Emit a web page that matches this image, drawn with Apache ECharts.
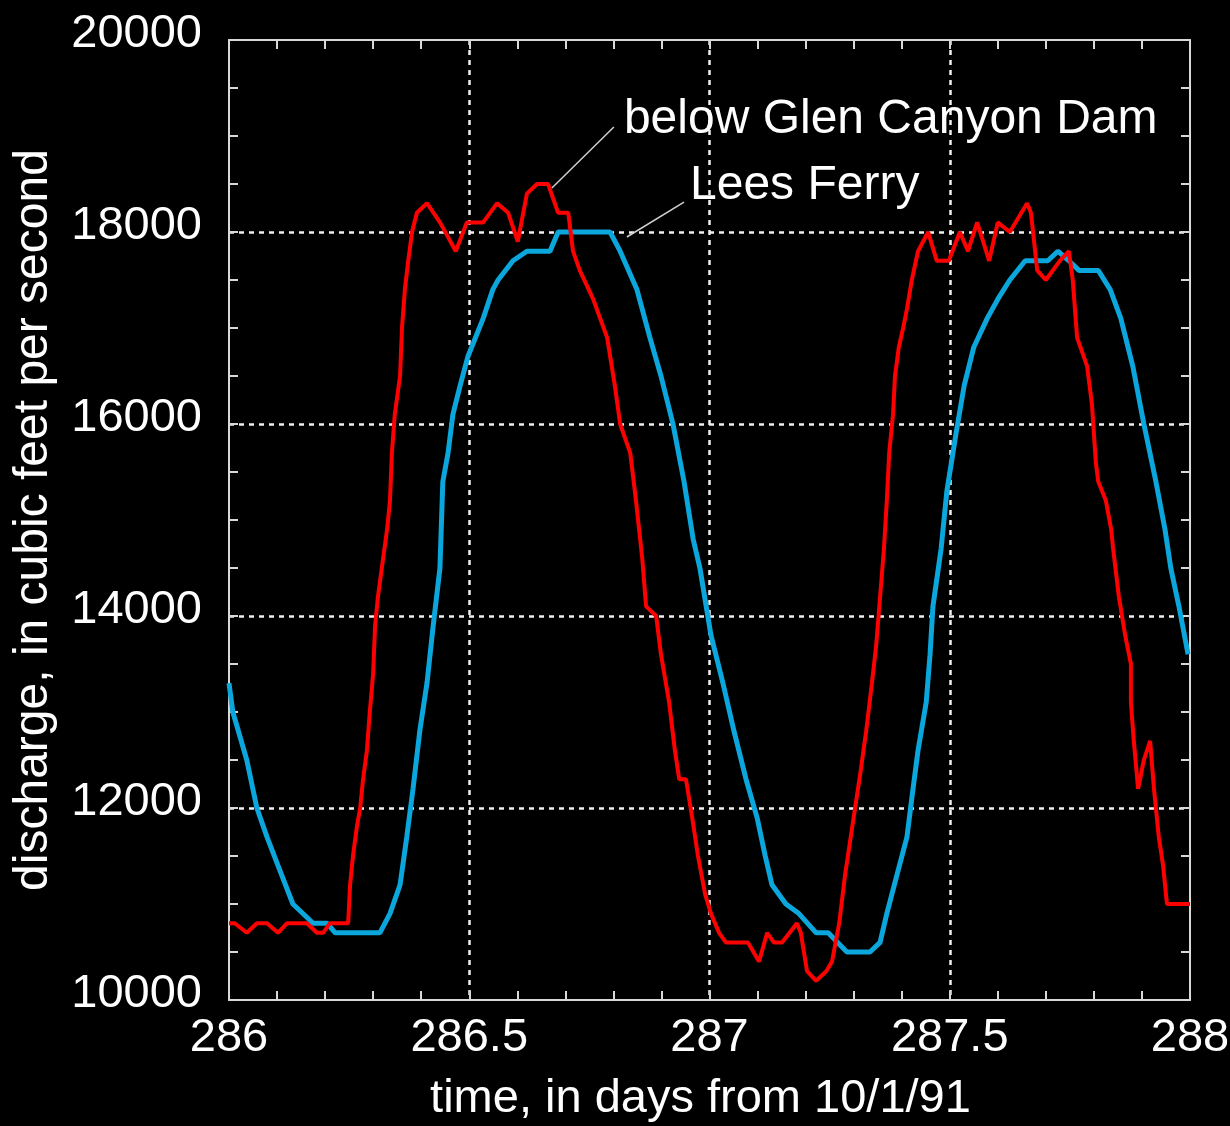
<!DOCTYPE html>
<html>
<head>
<meta charset="utf-8">
<title>Discharge below Glen Canyon Dam and at Lees Ferry</title>
<script src="https://cdn.jsdelivr.net/npm/echarts@6/dist/echarts.min.js"></script>
<style>
  html, body { margin: 0; padding: 0; background: #000; }
  #main { width: 1230px; height: 1126px; }
</style>
</head>
<body>
<div id="main"></div>
<script>
// time in days from 10/1/91
var damDays = [286.000, 286.012, 286.037, 286.058, 286.079, 286.102, 286.121, 286.162, 286.183, 286.196,
  286.210, 286.248, 286.252, 286.258, 286.266, 286.273, 286.279, 286.287, 286.293, 286.300,
  286.304, 286.310, 286.318, 286.329, 286.335, 286.339, 286.345, 286.356, 286.360, 286.366,
  286.373, 286.381, 286.391, 286.412, 286.439, 286.472, 286.495, 286.529, 286.558, 286.581,
  286.601, 286.620, 286.641, 286.664, 286.685, 286.706, 286.716, 286.730, 286.758, 286.787,
  286.803, 286.814, 286.835, 286.847, 286.860, 286.868, 286.889, 286.899, 286.916, 286.928,
  286.937, 286.951, 286.964, 286.976, 286.991, 287.003, 287.020, 287.034, 287.080, 287.103,
  287.120, 287.134, 287.151, 287.182, 287.190, 287.203, 287.222, 287.243, 287.255, 287.270,
  287.282, 287.294, 287.303, 287.315, 287.326, 287.338, 287.347, 287.355, 287.363, 287.369,
  287.374, 287.382, 287.386, 287.394, 287.403, 287.411, 287.421, 287.434, 287.455, 287.473,
  287.498, 287.521, 287.538, 287.557, 287.582, 287.600, 287.625, 287.661, 287.669, 287.682,
  287.700, 287.729, 287.748, 287.756, 287.765, 287.786, 287.796, 287.804, 287.809, 287.825,
  287.836, 287.840, 287.852, 287.865, 287.877, 287.877, 287.883, 287.892, 287.904, 287.917,
  287.925, 287.935, 287.944, 287.952, 288.000];
var damFlow = [10800, 10800, 10700, 10800, 10800, 10700, 10800, 10800, 10700, 10700,
  10800, 10800, 11200, 11500, 11800, 12000, 12300, 12600, 13000, 13400,
  13900, 14200, 14500, 14900, 15200, 15700, 16100, 16500, 17000, 17400,
  17700, 18000, 18200, 18300, 18100, 17800, 18100, 18100, 18300, 18200,
  17900, 18400, 18500, 18500, 18200, 18200, 17800, 17600, 17300, 16900,
  16400, 16000, 15700, 15200, 14600, 14100, 14000, 13600, 13100, 12600,
  12300, 12300, 11900, 11500, 11100, 10900, 10700, 10600, 10600, 10400,
  10700, 10600, 10600, 10800, 10700, 10300, 10200, 10300, 10400, 10800,
  11300, 11700, 12000, 12400, 12800, 13300, 13700, 14200, 14700, 15200,
  15700, 16100, 16500, 16800, 17000, 17200, 17500, 17800, 18000, 17700,
  17700, 18000, 17800, 18100, 17700, 18100, 18000, 18300, 18200, 17600,
  17500, 17700, 17800, 17500, 16900, 16600, 16200, 15600, 15400, 15200,
  14900, 14700, 14200, 13800, 13500, 13100, 12700, 12200, 12500, 12700,
  12200, 11700, 11400, 11000, 11000];

var leesDays = [286.000, 286.008, 286.037, 286.058, 286.079, 286.102, 286.133, 286.175, 286.204, 286.221,
  286.314, 286.335, 286.356, 286.370, 286.383, 286.397, 286.412, 286.425, 286.439, 286.445,
  286.456, 286.466, 286.481, 286.497, 286.529, 286.549, 286.560, 286.591, 286.620, 286.668,
  286.685, 286.793, 286.814, 286.849, 286.876, 286.899, 286.924, 286.947, 286.966, 286.980,
  287.003, 287.028, 287.051, 287.076, 287.099, 287.116, 287.130, 287.159, 287.186, 287.222,
  287.247, 287.286, 287.334, 287.355, 287.369, 287.390, 287.411, 287.421, 287.434, 287.451,
  287.459, 287.465, 287.482, 287.494, 287.513, 287.530, 287.550, 287.578, 287.600, 287.625,
  287.657, 287.704, 287.725, 287.748, 287.769, 287.809, 287.834, 287.856, 287.881, 287.904,
  287.929, 287.948, 287.960, 287.977, 287.996];
var leesFlow = [13300, 13000, 12500, 12000, 11700, 11400, 11000, 10800, 10800, 10700,
  10700, 10900, 11200, 11700, 12200, 12800, 13300, 13900, 14500, 15400,
  15700, 16100, 16400, 16700, 17100, 17400, 17500, 17700, 17800, 17800,
  18000, 18000, 17800, 17400, 16900, 16500, 16000, 15400, 14800, 14500,
  13800, 13300, 12800, 12300, 11900, 11500, 11200, 11000, 10900, 10700,
  10700, 10500, 10500, 10600, 10900, 11300, 11700, 12100, 12600, 13100,
  13600, 14100, 14700, 15300, 15900, 16400, 16800, 17100, 17300, 17500,
  17700, 17700, 17800, 17700, 17600, 17600, 17400, 17100, 16600, 16000,
  15400, 14900, 14500, 14100, 13600];

var dayTicks = [286, 286.5, 287, 287.5, 288];
var flowTicks = [10000, 12000, 14000, 16000, 18000, 20000];

var damLabel = 'below Glen Canyon Dam';
var leesLabel = 'Lees Ferry';
// leader lines: [point near the curve, point near the label]
var damLeader = [[286.672, 18458], [286.801, 19094]];
var leesLeader = [[286.828, 17948], [286.947, 18312]];

function pairs(xs, ys) {
  return xs.map(function (x, i) { return [x, ys[i]]; });
}

var FONT = "'Liberation Sans', Arial, Helvetica, sans-serif";
var AX = '#d8d8d8';
var GRID = { color: '#f0f0f0', width: 2.5, type: [5, 5] };

var chart = echarts.init(document.getElementById('main'));

function xAxisCfg(pos, showLabel) {
  return {
    type: 'value', position: pos,
    min: dayTicks[0], max: dayTicks[dayTicks.length - 1], interval: 0.5,
    axisLine: { show: true, onZero: false, lineStyle: { color: AX, width: 2 } },
    axisTick: { show: true, inside: true, length: 9, lineStyle: { color: AX, width: 2 } },
    minorTick: { show: true, splitNumber: 5, length: 9, lineStyle: { color: AX, width: 2 } },
    axisLabel: { show: showLabel, color: '#fff', fontFamily: FONT, fontSize: 47, margin: 15,
      formatter: function (v) { return String(v); } },
    splitLine: { show: showLabel, showMinLine: false, showMaxLine: false, lineStyle: GRID }
  };
}
function yAxisCfg(pos, showLabel) {
  return {
    type: 'value', position: pos,
    min: flowTicks[0], max: flowTicks[flowTicks.length - 1], interval: 2000,
    axisLine: { show: true, onZero: false, lineStyle: { color: AX, width: 2 } },
    axisTick: { show: true, inside: true, length: 9, lineStyle: { color: AX, width: 2 } },
    minorTick: { show: true, splitNumber: 4, length: 9, lineStyle: { color: AX, width: 2 } },
    axisLabel: { show: showLabel, color: '#fff', fontFamily: FONT, fontSize: 47, margin: 27,
      verticalAlign: 'bottom', lineHeight: 12,
      formatter: function (v) { return String(v); } },
    splitLine: { show: showLabel, showMinLine: false, showMaxLine: false, lineStyle: GRID }
  };
}

var xBottom = xAxisCfg('bottom', true);
xBottom.name = 'time, in days from 10/1/91';
xBottom.nameLocation = 'middle';
xBottom.nameGap = 76;
xBottom.nameTextStyle = { color: '#fff', fontFamily: FONT, fontSize: 47, padding: [0, 18, 0, 0] };

var yLeft = yAxisCfg('left', true);
yLeft.name = 'discharge, in cubic feet per second';
yLeft.nameLocation = 'middle';
yLeft.nameGap = 171;
yLeft.nameTextStyle = { color: '#fff', fontFamily: FONT, fontSize: 48 };

chart.setOption({
  animation: false,
  backgroundColor: '#000',
  grid: { left: 229, top: 40, width: 961, height: 960, containLabel: false, outerBoundsMode: 'none' },
  xAxis: [xBottom, xAxisCfg('top', false)],
  yAxis: [yLeft, yAxisCfg('right', false)],
  series: [
    {
      name: 'Lees Ferry', type: 'line', data: pairs(leesDays, leesFlow),
      showSymbol: false, symbol: 'none', z: 3,
      lineStyle: { color: '#0aa6dc', width: 5 }
    },
    {
      name: 'below Glen Canyon Dam', type: 'line', data: pairs(damDays, damFlow),
      showSymbol: false, symbol: 'none', z: 4,
      lineStyle: { color: '#ff0000', width: 4 }
    }
  ]
});

// annotations placed through the chart's own coordinate conversion
function px(p) { return chart.convertToPixel({ gridIndex: 0 }, p); }
var d0 = px(damLeader[0]), d1 = px(damLeader[1]);
var l0 = px(leesLeader[0]), l1 = px(leesLeader[1]);

chart.setOption({
  graphic: [
    { type: 'line', shape: { x1: d0[0], y1: d0[1], x2: d1[0], y2: d1[1] },
      style: { stroke: '#cfcfcf', lineWidth: 1.5 }, z: 10 },
    { type: 'line', shape: { x1: l0[0], y1: l0[1], x2: l1[0], y2: l1[1] },
      style: { stroke: '#cfcfcf', lineWidth: 1.5 }, z: 10 },
    { type: 'text', x: d1[0] + 10, y: d1[1] - 7, z: 10,
      style: { text: damLabel, fill: '#fff', font: '48px ' + FONT, verticalAlign: 'middle', align: 'left' } },
    { type: 'text', x: l1[0] + 6, y: l1[1] - 16, z: 10,
      style: { text: leesLabel, fill: '#fff', font: '48px ' + FONT, verticalAlign: 'middle', align: 'left' } }
  ]
});
</script>
</body>
</html>
